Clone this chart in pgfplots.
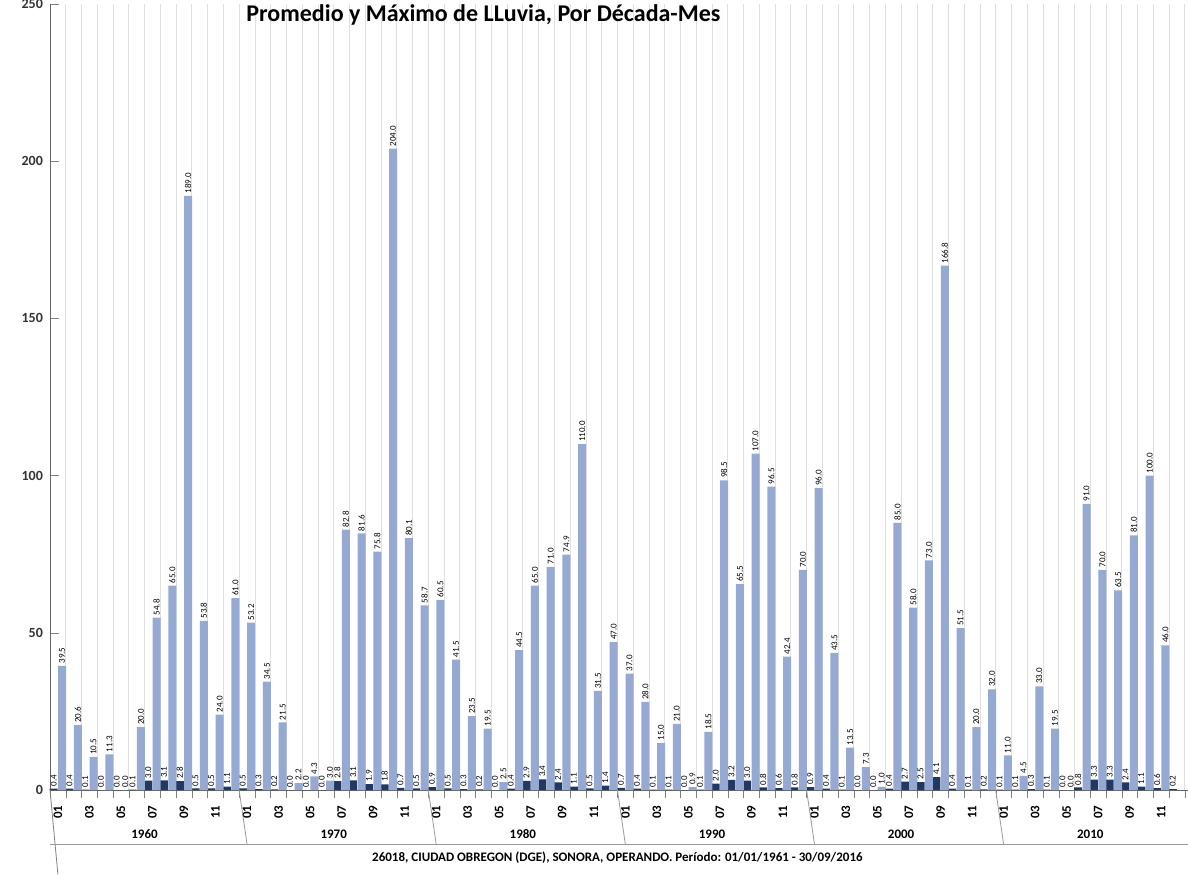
\documentclass[border=0pt]{standalone}
\usepackage{pgfplots}
\pgfplotsset{compat=1.18}
\usepackage{pgfplotstable}
\usepackage{fontspec}
\setmainfont{Carlito}
\definecolor{avgc}{HTML}{1F3864}
\definecolor{maxc}{HTML}{95A9D3}
\pgfplotstableread{
x avg max
0 0.4 39.5
1 0.4 20.6
2 0.1 10.5
3 0.0 11.3
4 0.0 0.0
5 0.1 20.0
6 3.0 54.8
7 3.1 65.0
8 2.8 189.0
9 0.5 53.8
10 0.5 24.0
11 1.1 61.0
12 0.5 53.2
13 0.3 34.5
14 0.2 21.5
15 0.0 2.2
16 0.0 4.3
17 0.0 3.0
18 2.8 82.8
19 3.1 81.6
20 1.9 75.8
21 1.8 204.0
22 0.7 80.1
23 0.5 58.7
24 0.9 60.5
25 0.5 41.5
26 0.3 23.5
27 0.2 19.5
28 0.0 2.5
29 0.4 44.5
30 2.9 65.0
31 3.4 71.0
32 2.4 74.9
33 1.1 110.0
34 0.5 31.5
35 1.4 47.0
36 0.7 37.0
37 0.4 28.0
38 0.1 15.0
39 0.1 21.0
40 0.0 0.9
41 0.1 18.5
42 2.0 98.5
43 3.2 65.5
44 3.0 107.0
45 0.8 96.5
46 0.6 42.4
47 0.8 70.0
48 0.9 96.0
49 0.4 43.5
50 0.1 13.5
51 0.0 7.3
52 0.0 1.0
53 0.4 85.0
54 2.7 58.0
55 2.5 73.0
56 4.1 166.8
57 0.4 51.5
58 0.1 20.0
59 0.2 32.0
60 0.1 11.0
61 0.1 4.5
62 0.3 33.0
63 0.1 19.5
64 0.0 0.0
65 0.8 91.0
66 3.3 70.0
67 3.3 63.5
68 2.4 81.0
69 1.1 100.0
70 0.6 46.0
}\data
\pgfplotstableread{
x avg
71 0.2
}\datalast
\newcommand\lab{\fontsize{6.5}{7}\selectfont\bfseries}
\begin{document}
\begin{tikzpicture}
\begin{axis}[
  at={(25pt,42pt)}, anchor=south west,
  scale only axis, width=569pt, height=393pt,
  xmin=-0.5, xmax=71.7, ymin=0, ymax=250,
  ytick={0,50,100,150,200,250},
  yticklabel style={font=\fontsize{7}{8}\selectfont\bfseries, text=black!80},
  /pgf/number format/assume math mode=true,
  axis x line*=bottom, axis y line*=left,
  axis line style={black!60},
  xtick={0,...,71}, major x tick style={draw=none},
  xticklabels={01,,03,,05,,07,,09,,11,,01,,03,,05,,07,,09,,11,,01,,03,,05,,07,,09,,11,,01,,03,,05,,07,,09,,11,,01,,03,,05,,07,,09,,11,,01,,03,,05,,07,,09,,11,},
  xticklabel style={rotate=90, anchor=east, font=\lab},
  minor xtick={-0.5,0.5,...,71.5},
  xminorgrids, minor grid style={black!12},
  minor x tick style={black!50}, minor tick length=4pt,
  ytick style={black!50},
  ybar, bar width=4pt,
  nodes near coords={\pgfmathprintnumber[fixed,fixed zerofill,precision=1]{\pgfplotspointmeta}},
  every node near coord/.append style={rotate=90, anchor=west, font=\fontsize{4.5}{5}\selectfont, inner sep=1pt, text=black},
  clip=false,
]
\addplot[fill=avgc, draw=none, bar shift=-2.1pt] table[x=x,y=avg]{\data};
\addplot[fill=avgc, draw=none, bar shift=-2.1pt] table[x=x,y=avg]{\datalast};
\addplot[fill=maxc, draw=none, bar shift=2.1pt] table[x=x,y=max]{\data};
\node[font=\lab,yshift=-22pt] at (axis cs:5.5,0) {1960};
\node[font=\lab,yshift=-22pt] at (axis cs:17.5,0) {1970};
\node[font=\lab,yshift=-22pt] at (axis cs:29.5,0) {1980};
\node[font=\lab,yshift=-22pt] at (axis cs:41.5,0) {1990};
\node[font=\lab,yshift=-22pt] at (axis cs:53.5,0) {2000};
\node[font=\lab,yshift=-22pt] at (axis cs:65.5,0) {2010};
\draw[black!40] (axis cs:11.5,0) -- ++(0,-27pt);
\draw[black!40] (axis cs:23.5,0) -- ++(0,-27pt);
\draw[black!40] (axis cs:35.5,0) -- ++(0,-27pt);
\draw[black!40] (axis cs:47.5,0) -- ++(0,-27pt);
\draw[black!40] (axis cs:59.5,0) -- ++(0,-27pt);
\draw[black!50] (axis cs:-0.5,0) -- ++(0,-42pt);
\draw[black!40] ([yshift=-27pt]axis cs:-0.5,0) -- ([yshift=-27pt]axis cs:71.7,0);
\node[font=\lab,yshift=-34pt] at (axis cs:35.5,0) {26018, CIUDAD OBREGON (DGE), SONORA, OPERANDO. Período: 01/01/1961 - 30/09/2016};
\node[font=\fontsize{12}{14}\selectfont\bfseries,yshift=-5.5pt] at (axis cs:27,250) {Promedio y Máximo de LLuvia, Por Década-Mes};
\end{axis}
\pgfresetboundingbox
\path (0,0) rectangle (594pt,437pt);
\end{tikzpicture}
\end{document}
